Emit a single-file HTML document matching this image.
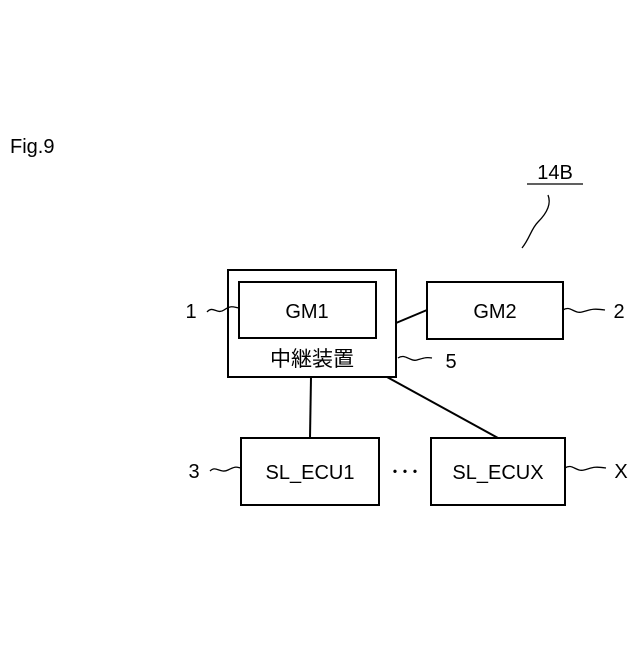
<!DOCTYPE html>
<html><head><meta charset="utf-8"><style>body{margin:0;background:#fff}</style></head><body>
<svg width="640" height="640" xmlns="http://www.w3.org/2000/svg" font-family="Liberation Sans, Noto Sans CJK JP, sans-serif">
<rect width="640" height="640" fill="#fff"/>
<g fill="none" stroke="#000" stroke-width="2">
<rect x="228" y="270" width="168" height="107"/>
<rect x="239" y="282" width="137" height="56"/>
<rect x="427" y="282" width="136" height="57"/>
<rect x="241" y="438" width="138" height="67"/>
<rect x="431" y="438" width="134" height="67"/>
<line x1="396" y1="323" x2="427" y2="310"/>
<line x1="311" y1="377" x2="310" y2="438"/>
<line x1="387" y1="377" x2="498" y2="438"/>
<g stroke-width="1.3">
<path d="M207 312 C213 305,217 315,224 310 S233 307,239 308"/>
<path d="M563 310 C570 305,574 314,582 312 S592 308,605 310"/>
<path d="M398 358 C405 353,410 362,417 360 S426 357,432 358"/>
<path d="M210 471 C216 465,220 474,228 470 S236 467,241 468"/>
<path d="M565 468 C572 463,576 472,584 470 S593 466,606 468"/>
<path d="M548 195 C552 205,545 215,538 222 S530 238,522 248"/>
<line x1="527" y1="184" x2="583" y2="184"/>
</g>
</g>
<g font-size="20" text-anchor="middle">
<text x="307" y="318">GM1</text>
<text x="495" y="318">GM2</text>
<text x="310" y="479">SL_ECU1</text>
<text x="498" y="479">SL_ECUX</text>
<text x="312" y="366" font-size="21">中継装置</text>
<text x="405" y="479">･･･</text>
<text x="191" y="318">1</text>
<text x="619" y="318">2</text>
<text x="451" y="368">5</text>
<text x="194" y="478">3</text>
<text x="621" y="478">X</text>
<text x="555" y="179">14B</text>
</g>
<text x="10" y="153" font-size="20">Fig.9</text>
</svg>
</body></html>
